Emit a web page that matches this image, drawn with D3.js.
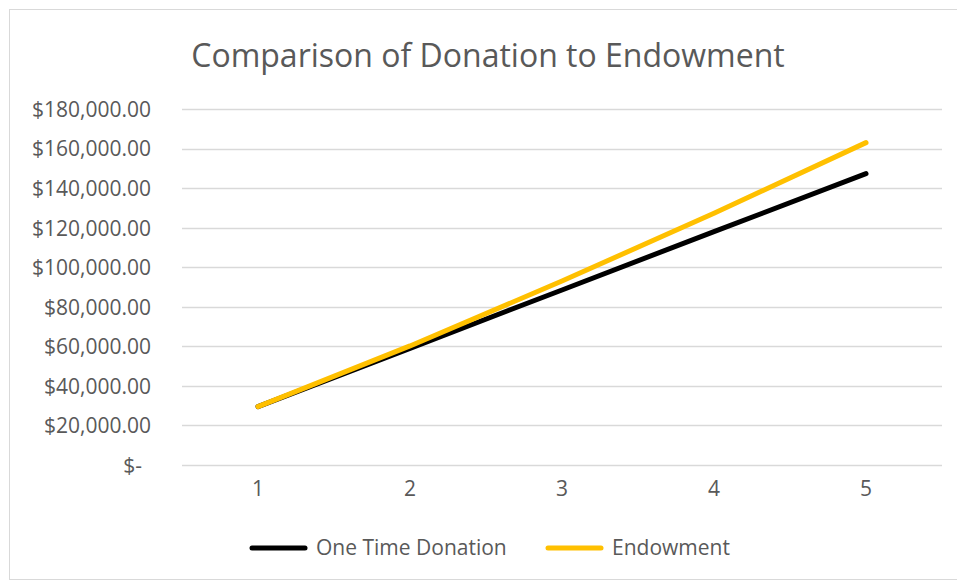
<!DOCTYPE html>
<html>
<head>
<meta charset="utf-8">
<script src="https://cdn.jsdelivr.net/npm/d3@7"></script>
<style>
  body { margin: 0; background: #fff; }
  text { font-family: "Open Sans", sans-serif; fill: #595959; }
</style>
</head>
<body>
<div id="chart"></div>
<script>
// Chart data
const years = [1, 2, 3, 4, 5];
const oneTimeDonation = [29500, 59000, 88500, 118000, 147300];
const endowment = [29500, 60200, 93000, 127300, 163000];
const yTicks = [0, 20000, 40000, 60000, 80000, 100000, 120000, 140000, 160000, 180000];
const seriesNames = ["One Time Donation", "Endowment"];
const seriesColors = ["#000000", "#FFC000"];

const W = 957, H = 582;
const margin = { top: 109, right: 15, bottom: 117, left: 182 };
const width = W - margin.left - margin.right;
const height = H - margin.top - margin.bottom;

const svg = d3.select("#chart").append("svg")
    .attr("width", W)
    .attr("height", H);

// Outer chart border
svg.append("rect")
    .attr("x", 9.5).attr("y", 9.5)
    .attr("width", W - 8).attr("height", H - 12)
    .attr("fill", "none")
    .attr("stroke", "#d9d9d9");

// Title
svg.append("text")
    .attr("x", 488)
    .attr("y", 67)
    .attr("text-anchor", "middle")
    .style("font-size", "32px")
    .text("Comparison of Donation to Endowment");

const g = svg.append("g")
    .attr("transform", `translate(${margin.left}, ${margin.top})`);

let x = d3.scaleBand()
    .domain(years)
    .range([0, width]);

let y = d3.scaleLinear()
    .domain([0, 180000])
    .range([height, 0]);

// Gridlines
g.append("g")
    .selectAll("line")
    .data(yTicks)
    .join("line")
    .attr("x1", 0)
    .attr("x2", width)
    .attr("y1", d => Math.round(y(d)) + 0.5)
    .attr("y2", d => Math.round(y(d)) + 0.5)
    .attr("stroke", "#d9d9d9")
    .attr("stroke-width", 1.5);

// Y axis labels
const fmt = d => d === 0 ? "$-" : "$" + d3.format(",.2f")(d);
const yAxis = g.append("g")
    .call(d3.axisLeft(y).tickValues(yTicks).tickFormat(fmt).tickSize(0).tickPadding(31));
yAxis.select(".domain").remove();
yAxis.selectAll("text")
    .attr("dy", "0.35em")
    .attr("dx", d => d === 0 ? -9 : 0)
    .style("font-size", "21px")
    .style("fill", "#595959");

// X axis labels
const xAxis = g.append("g")
    .attr("transform", `translate(0, ${height})`)
    .call(d3.axisBottom(x).tickSize(0).tickPadding(16));
xAxis.select(".domain").remove();
xAxis.selectAll("text")
    .style("font-size", "21px")
    .style("fill", "#595959");

// Lines
const line = d3.line()
    .x((d, i) => x(years[i]) + x.bandwidth() / 2)
    .y(d => y(d));

[oneTimeDonation, endowment].forEach((series, i) => {
    g.append("path")
        .datum(series)
        .attr("fill", "none")
        .attr("stroke", seriesColors[i])
        .attr("stroke-width", 5)
        .attr("stroke-linecap", "round")
        .attr("stroke-linejoin", "round")
        .attr("d", line);
});

// Legend
const legendItems = [
    { name: seriesNames[0], color: seriesColors[0], x: 252 },
    { name: seriesNames[1], color: seriesColors[1], x: 548 }
];
const legend = svg.append("g").attr("transform", "translate(0, 548)");
legendItems.forEach(d => {
    legend.append("line")
        .attr("x1", d.x).attr("x2", d.x + 53)
        .attr("y1", 0).attr("y2", 0)
        .attr("stroke", d.color)
        .attr("stroke-width", 5)
        .attr("stroke-linecap", "round");
    legend.append("text")
        .attr("x", d.x + 64)
        .attr("y", 0)
        .attr("dy", "0.35em")
        .style("font-size", "21px")
        .text(d.name);
});
</script>
</body>
</html>
